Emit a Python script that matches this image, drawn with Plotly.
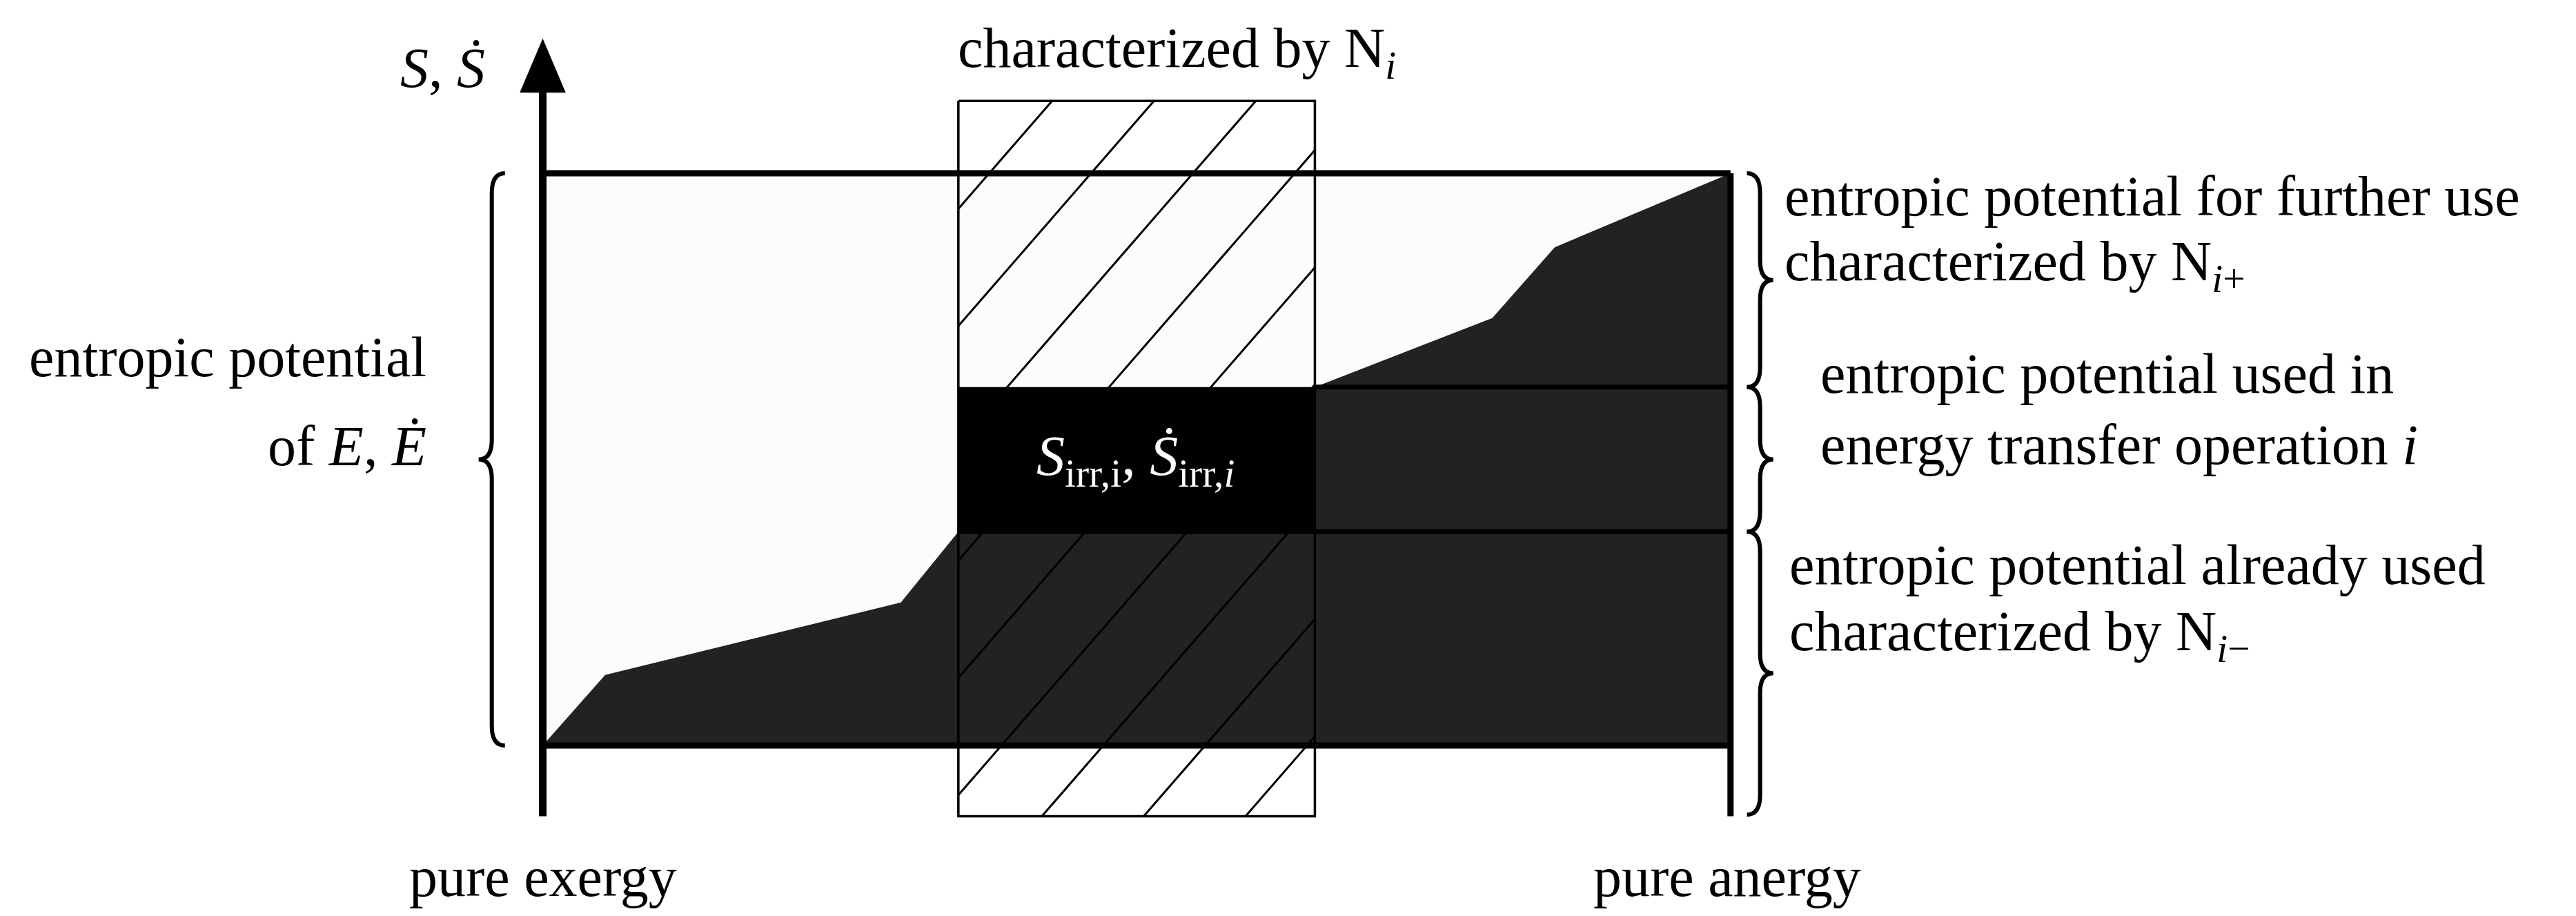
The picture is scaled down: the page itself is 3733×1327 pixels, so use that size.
import plotly.graph_objects as go

# diagram geometry (drawing units, y grows downward)
box_x = [327, 1050]
top_y, bot_y = 102, 450
band_y = [232, 320]
win_x = [580, 797]
win_y = [58, 493]

left_curve_x = [327, 365, 545, 580]
left_curve_y = [450, 407, 363, 320]
right_curve_x = [797, 905, 943, 1050]
right_curve_y = [232, 190, 147, 102]

hatch_slope = 1.15
hatch_step = 71.3
hatch_c0 = 790.6

W, H = 3733, 1327
FS = 82
FONT = "Liberation Serif"

fig = go.Figure()

def poly(xs, ys, fill, line_col=None, lw=0):
    fig.add_trace(go.Scatter(x=xs + [xs[0]], y=ys + [ys[0]], mode="lines", fill="toself",
                             fillcolor=fill, line=dict(color=line_col or fill, width=lw),
                             hoverinfo="skip", showlegend=False))

def seg(xs, ys, lw, col="black"):
    fig.add_trace(go.Scatter(x=xs, y=ys, mode="lines", line=dict(color=col, width=lw),
                             hoverinfo="skip", showlegend=False))

# light area
poly([box_x[0], box_x[1], box_x[1], box_x[0]], [top_y, top_y, bot_y, bot_y], "#fcfcfc")
# dark area
dx = left_curve_x + [win_x[1], win_x[1]] + right_curve_x[1:] + [box_x[1]]
dy = left_curve_y + [band_y[1], band_y[0]] + right_curve_y[1:] + [bot_y]
poly(dx, dy, "#222222")
# irreversibility block
poly([win_x[0], win_x[1], win_x[1], win_x[0]], [band_y[0], band_y[0], band_y[1], band_y[1]], "black")

# hatching inside the window
hx, hy = [], []
c = hatch_c0
while (c - win_y[1]) / hatch_slope > win_x[0] - 400:
    c -= hatch_step
while True:
    xa = max(win_x[0], (c - win_y[1]) / hatch_slope)
    xb = min(win_x[1], (c - win_y[0]) / hatch_slope)
    if (c - win_y[1]) / hatch_slope > win_x[1]:
        break
    if xb > xa:
        hx += [xa, xb, None]
        hy += [c - hatch_slope * xa, c - hatch_slope * xb, None]
    c += hatch_step
seg(hx, hy, 3)
seg([win_x[0], win_x[1], win_x[1], win_x[0], win_x[0]],
    [win_y[0], win_y[0], win_y[1], win_y[1], win_y[0]], 3.5)

# frame lines
seg([box_x[0], box_x[1]], [top_y, top_y], 9)
seg([box_x[0], box_x[1]], [bot_y, bot_y], 9)
seg([box_x[1], box_x[1]], [top_y, 493], 9)
seg([win_x[1], box_x[1]], [band_y[0], band_y[0]], 7)
seg([win_x[0], box_x[1]], [band_y[1], band_y[1]], 7)
# axis with arrow
seg([box_x[0], box_x[0]], [493, 50], 11)
poly([313, 341, 327], [53, 53, 20], "black")

# braces
def brace(y0, y1, xb, side):
    w = 8 * side
    r = 12
    ym = (y0 + y1) / 2
    p = (f"M {xb + w},{y0} Q {xb},{y0} {xb},{y0 + r} L {xb},{ym - r} "
         f"Q {xb},{ym} {xb - w},{ym} Q {xb},{ym} {xb},{ym + r} "
         f"L {xb},{y1 - r} Q {xb},{y1} {xb + w},{y1}")
    fig.add_shape(type="path", path=p, xref="x", yref="y", line=dict(color="black", width=6))

brace(top_y, bot_y, 296, 1)
brace(top_y, band_y[0], 1068, -1)
brace(band_y[0], band_y[1], 1068, -1)
brace(band_y[1], 492, 1068, -1)

def label(x, y, t, anchor="center", col="black"):
    fig.add_annotation(x=x, y=y, text=t, showarrow=False, xanchor=anchor, yanchor="middle",
                       font=dict(family=FONT, size=FS, color=col))

label(266, 38, "<i>S</i>, <i>Ṡ</i>")
label(713, 28, "characterized by N<sub><i>i</i></sub>")
label(257, 214, "entropic potential", "right")
label(257, 268, "of <i>E</i>, <i>Ė</i>", "right")
label(1082, 116, "entropic potential for further use", "left")
label(1082, 158, "characterized by N<sub><i>i</i>+</sub>", "left")
label(1104, 224, "entropic potential used in", "left")
label(1104, 267, "energy transfer operation <i>i</i>", "left")
label(1085, 340, "entropic potential already used", "left")
label(1085, 383, "characterized by N<sub><i>i</i>−</sub>", "left")
label(327, 530, "pure exergy")
label(1048, 530, "pure anergy")
label(688, 276, "<i>S</i><sub>irr,i</sub>, <i>Ṡ</i><sub>irr,<i>i</i></sub>", col="white")

fig.update_layout(width=W, height=H, margin=dict(l=0, r=0, t=0, b=0),
                  plot_bgcolor="white", paper_bgcolor="white",
                  xaxis=dict(range=[0, 1568], visible=False, fixedrange=True),
                  yaxis=dict(range=[557, 0], visible=False, fixedrange=True))
fig.write_html("out.html")
